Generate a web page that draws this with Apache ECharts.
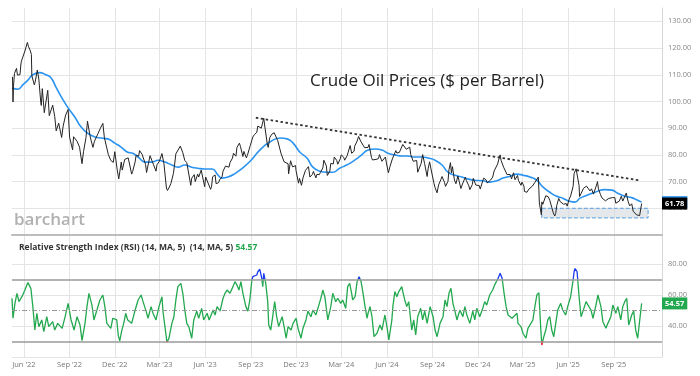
<!DOCTYPE html>
<html>
<head>
<meta charset="utf-8">
<script src="https://cdn.jsdelivr.net/npm/echarts@6/dist/echarts.min.js"></script>
<style>
html, body { margin: 0; padding: 0; background: #fff; }
#chart { width: 700px; height: 376px; }
</style>
</head>
<body>
<div id="chart"></div>
<script>
// x axis ticks (quarter starts) and their labels
var tickDates = ['2022-06-01','2022-09-01','2022-12-01','2023-03-01','2023-06-01','2023-09-01','2023-12-01',
  '2024-03-01','2024-06-01','2024-09-01','2024-12-01','2025-03-01','2025-06-01','2025-09-01'];
var tickLabels = ["Jun '22","Sep '22","Dec '22","Mar '23","Jun '23","Sep '23","Dec '23",
  "Mar '24","Jun '24","Sep '24","Dec '24","Mar '25","Jun '25","Sep '25"];
var priceTicks = [60, 70, 80, 90, 100, 110, 120, 130];
var rsiTicks = [20, 40, 60, 80];
var rsiLabelTicks = [40, 60, 80];

// crude oil close
var priceDates = [
  '2022-05-09','2022-05-10','2022-05-11','2022-05-13','2022-05-17','2022-05-19','2022-05-20','2022-05-24','2022-05-26','2022-05-27','2022-05-31',
  '2022-06-03','2022-06-08','2022-06-10','2022-06-14','2022-06-16','2022-06-17','2022-06-22','2022-06-24','2022-06-28',
  '2022-07-01','2022-07-05','2022-07-06','2022-07-08','2022-07-12','2022-07-14','2022-07-19','2022-07-22','2022-07-26','2022-07-29',
  '2022-08-02','2022-08-05','2022-08-10','2022-08-16','2022-08-19','2022-08-24','2022-08-29',
  '2022-09-01','2022-09-07','2022-09-09','2022-09-13','2022-09-16','2022-09-21','2022-09-26','2022-09-29',
  '2022-10-04','2022-10-07','2022-10-12','2022-10-14','2022-10-18','2022-10-21','2022-10-25','2022-10-28',
  '2022-11-02','2022-11-07','2022-11-10','2022-11-14','2022-11-18','2022-11-23','2022-11-28',
  '2022-12-01','2022-12-06','2022-12-09','2022-12-14','2022-12-16','2022-12-21','2022-12-28',
  '2023-01-04','2023-01-06','2023-01-11','2023-01-13','2023-01-18','2023-01-20','2023-01-25','2023-01-27',
  '2023-02-01','2023-02-03','2023-02-06','2023-02-10','2023-02-14','2023-02-17','2023-02-22','2023-02-24',
  '2023-03-01','2023-03-06','2023-03-10','2023-03-15','2023-03-17','2023-03-20','2023-03-24','2023-03-29','2023-03-31',
  '2023-04-03','2023-04-06','2023-04-12','2023-04-17','2023-04-21','2023-04-25','2023-04-28',
  '2023-05-03','2023-05-05','2023-05-10','2023-05-12','2023-05-17','2023-05-19','2023-05-24','2023-05-31',
  '2023-06-02','2023-06-05','2023-06-12','2023-06-14','2023-06-16','2023-06-21','2023-06-23','2023-06-28','2023-06-30',
  '2023-07-05','2023-07-07','2023-07-12','2023-07-14','2023-07-19','2023-07-21','2023-07-26','2023-07-28',
  '2023-08-02','2023-08-04','2023-08-09','2023-08-11','2023-08-16','2023-08-18','2023-08-23','2023-08-25','2023-08-31',
  '2023-09-05','2023-09-08','2023-09-13','2023-09-15','2023-09-19','2023-09-22','2023-09-27','2023-09-29',
  '2023-10-04','2023-10-06','2023-10-09','2023-10-13','2023-10-18','2023-10-20','2023-10-25','2023-10-27',
  '2023-11-01','2023-11-03','2023-11-07','2023-11-10','2023-11-15','2023-11-16','2023-11-20','2023-11-24','2023-11-30',
  '2023-12-01','2023-12-06','2023-12-08','2023-12-12','2023-12-15','2023-12-20','2023-12-26','2023-12-29',
  '2024-01-03','2024-01-05','2024-01-10','2024-01-12','2024-01-17','2024-01-19','2024-01-24','2024-01-26','2024-01-31',
  '2024-02-02','2024-02-07','2024-02-09','2024-02-14','2024-02-16','2024-02-21','2024-02-23','2024-02-28',
  '2024-03-01','2024-03-06','2024-03-08','2024-03-13','2024-03-15','2024-03-19','2024-03-22','2024-03-27','2024-03-28',
  '2024-04-02','2024-04-05','2024-04-09','2024-04-12','2024-04-17','2024-04-19','2024-04-24','2024-04-26',
  '2024-05-01','2024-05-03','2024-05-07','2024-05-10','2024-05-15','2024-05-17','2024-05-22','2024-05-24','2024-05-29','2024-05-31',
  '2024-06-04','2024-06-07','2024-06-12','2024-06-14','2024-06-19','2024-06-21','2024-06-26','2024-06-28',
  '2024-07-03','2024-07-05','2024-07-10','2024-07-12','2024-07-17','2024-07-19','2024-07-24','2024-07-26','2024-07-31',
  '2024-08-02','2024-08-05','2024-08-09','2024-08-12','2024-08-16','2024-08-21','2024-08-23','2024-08-26','2024-08-30',
  '2024-09-04','2024-09-06','2024-09-10','2024-09-13','2024-09-18','2024-09-20','2024-09-25','2024-09-27',
  '2024-10-02','2024-10-04','2024-10-07','2024-10-09','2024-10-11','2024-10-15','2024-10-18','2024-10-22','2024-10-25','2024-10-28',
  '2024-11-01','2024-11-06','2024-11-08','2024-11-13','2024-11-15','2024-11-20','2024-11-22','2024-11-27','2024-11-29',
  '2024-12-04','2024-12-06','2024-12-11','2024-12-13','2024-12-18','2024-12-20','2024-12-24','2024-12-27','2024-12-31',
  '2025-01-03','2025-01-07','2025-01-10','2025-01-13','2025-01-15','2025-01-17','2025-01-22','2025-01-24','2025-01-29','2025-01-31',
  '2025-02-04','2025-02-07','2025-02-11','2025-02-14','2025-02-19','2025-02-21','2025-02-26','2025-02-28',
  '2025-03-04','2025-03-05','2025-03-10','2025-03-14','2025-03-18','2025-03-21','2025-03-26','2025-03-28',
  '2025-04-02','2025-04-03','2025-04-04','2025-04-08','2025-04-09','2025-04-11','2025-04-15','2025-04-17','2025-04-22','2025-04-25','2025-04-29',
  '2025-05-02','2025-05-05','2025-05-07','2025-05-09','2025-05-13','2025-05-16','2025-05-20','2025-05-23','2025-05-28','2025-05-30',
  '2025-06-03','2025-06-06','2025-06-10','2025-06-11','2025-06-13','2025-06-17','2025-06-18','2025-06-20','2025-06-23','2025-06-24','2025-06-27',
  '2025-07-02','2025-07-03','2025-07-08','2025-07-11','2025-07-15','2025-07-18','2025-07-22','2025-07-25','2025-07-29','2025-07-30',
  '2025-08-01','2025-08-05','2025-08-08','2025-08-12','2025-08-15','2025-08-19','2025-08-22','2025-08-26','2025-08-29',
  '2025-09-03','2025-09-05','2025-09-09','2025-09-12','2025-09-16','2025-09-19','2025-09-23','2025-09-26','2025-09-30',
  '2025-10-03','2025-10-07','2025-10-09','2025-10-10','2025-10-14','2025-10-17','2025-10-21','2025-10-23','2025-10-27'
];
var priceValues = [
  109.2,99.8,105.7,110.5,112.4,109.9,110.3,110.0,114.1,115.1,114.7,
  118.9,122.1,120.7,118.9,117.6,109.6,106.2,107.6,111.8,
  108.4,99.5,98.5,104.8,95.8,95.8,104.2,94.7,95.0,98.6,
  94.4,89.0,91.9,86.5,90.8,94.9,97.0,
  86.6,81.9,86.8,87.3,85.1,82.9,76.7,81.2,
  86.5,92.6,87.3,85.6,82.8,85.1,85.3,87.9,
  90.0,91.8,86.5,85.9,80.1,77.9,77.2,
  81.2,74.3,71.0,77.3,74.3,78.3,78.9,
  72.8,73.8,77.4,79.9,79.5,81.6,80.2,79.7,
  76.4,73.4,74.1,79.7,79.1,76.3,73.9,76.3,
  77.7,80.5,76.7,67.6,66.7,67.6,69.3,73.0,75.7,
  80.4,80.7,83.3,80.8,77.9,77.1,76.8,
  68.6,71.3,72.6,70.0,72.8,71.7,74.3,68.1,
  71.7,72.2,67.1,68.3,71.8,72.5,69.2,69.6,70.6,
  71.8,73.9,75.8,75.4,75.4,77.1,78.8,80.6,
  79.5,82.8,84.4,83.2,79.4,81.3,78.9,79.8,83.6,
  86.7,87.5,88.5,90.8,91.2,90.0,93.7,90.8,
  84.2,82.8,86.4,87.7,88.3,88.1,85.4,85.5,
  80.4,80.5,77.4,77.2,76.7,72.9,77.8,75.5,76.0,
  74.1,69.4,71.2,68.6,71.4,74.2,75.6,71.7,
  72.7,73.8,71.4,72.7,72.6,73.4,75.1,78.0,75.9,
  72.3,73.9,76.8,76.6,79.2,77.9,76.5,78.5,
  80.0,79.1,78.0,79.7,81.0,83.5,80.6,81.4,83.2,
  85.2,86.9,85.2,85.7,82.7,83.1,82.8,83.9,
  79.0,78.1,78.4,78.3,78.6,80.1,77.6,77.7,79.2,77.0,
  73.3,75.5,78.5,78.5,81.6,80.7,80.9,81.5,
  83.9,83.2,82.1,82.2,82.9,80.1,77.6,77.2,77.9,
  73.5,72.9,76.8,80.1,76.7,71.9,74.8,77.4,73.6,
  69.2,67.7,65.8,68.7,70.9,71.9,69.7,68.2,
  70.1,74.4,77.1,73.2,75.6,70.6,69.2,72.1,71.8,67.4,
  69.5,71.7,70.4,68.4,67.0,68.9,71.2,68.7,68.0,
  68.5,67.2,70.3,71.3,70.6,69.5,70.1,70.6,71.7,
  74.0,74.3,76.6,78.8,80.0,77.9,75.4,74.7,72.6,72.5,
  72.7,71.0,73.3,70.7,72.3,70.4,68.6,69.8,
  68.3,66.3,66.0,67.2,66.9,68.3,69.7,69.4,
  71.7,67.0,62.0,57.6,62.4,61.5,61.3,64.7,64.3,63.0,60.4,
  58.3,57.1,58.1,61.0,63.7,62.5,62.6,61.5,61.8,60.8,
  63.4,64.6,65.0,68.2,73.0,74.8,75.1,74.9,68.5,64.4,65.5,
  67.5,67.0,68.3,68.5,66.5,67.3,65.3,65.2,69.2,70.0,
  67.3,65.2,63.9,63.2,62.8,62.4,63.7,63.3,64.0,
  64.0,61.9,62.6,62.7,64.5,62.7,63.4,65.7,62.4,
  60.9,61.7,61.5,58.9,58.7,57.5,57.4,57.3,61.78
];

// moving average (blue)
var maDates = [
  '2022-05-08','2022-05-20','2022-05-30','2022-06-09','2022-06-19','2022-07-03','2022-07-15','2022-07-25','2022-08-04','2022-08-15',
  '2022-08-29','2022-09-12','2022-09-24','2022-10-08','2022-10-22','2022-11-03','2022-11-17','2022-12-01','2022-12-13','2022-12-27',
  '2023-01-06','2023-01-17','2023-01-31','2023-02-14','2023-02-26','2023-03-12','2023-03-26','2023-04-07','2023-04-21','2023-05-05',
  '2023-05-17','2023-05-31','2023-06-15','2023-06-27','2023-07-05','2023-07-17','2023-07-31','2023-08-12','2023-08-30','2023-09-19',
  '2023-10-09','2023-10-30','2023-11-13','2023-11-25','2023-12-09','2023-12-23',
  '2024-01-04','2024-01-18','2024-02-01','2024-02-13','2024-02-27','2024-03-12','2024-03-24','2024-04-08','2024-04-24','2024-05-08',
  '2024-05-22','2024-06-03','2024-06-17','2024-07-01','2024-07-13','2024-07-27','2024-08-10','2024-08-23','2024-09-06','2024-09-20',
  '2024-10-02','2024-10-16','2024-10-30','2024-11-11','2024-11-25','2024-12-11','2024-12-25',
  '2025-01-08','2025-01-21','2025-02-04','2025-02-18','2025-03-02','2025-03-16','2025-03-30','2025-04-11','2025-04-25','2025-05-09',
  '2025-05-21','2025-06-04','2025-06-15','2025-06-25','2025-07-09','2025-07-25','2025-08-14','2025-08-28','2025-09-09','2025-09-23',
  '2025-10-07','2025-10-19','2025-10-27'
];
var maValues = [
  105,104.6,106.3,108,110,110.8,110,109,105.6,101.8,
  97.6,94,90.5,88,86.7,86.3,86,84.4,83,81,
  80.6,79.2,77.3,77.3,78,77.3,76.2,75.4,76.2,75.4,
  75,74.7,74.7,72.4,71.3,71.7,73,74.6,77.5,81.8,
  84.8,86.3,86,84.4,81,78.8,
  75.4,73.9,73.5,73.5,75,76.2,77.5,79.5,81.8,82.2,
  81.8,80.6,80,79.6,79.6,79.2,79.2,78.8,78,76.2,
  73.5,72.4,71.7,71,70.5,70.3,69.8,
  70.3,71.3,72,72.8,72.4,71.7,70.5,68,66,64.5,
  63.8,62.6,62.3,63.8,64.9,66,67,66.8,65.6,64.5,
  64,63,62.3
];

// RSI (14)
var rsiDates = [
  '2022-05-08','2022-05-10','2022-05-14','2022-05-18','2022-05-22','2022-05-28','2022-06-03','2022-06-09','2022-06-15','2022-06-19','2022-06-23','2022-06-27',
  '2022-07-01','2022-07-07','2022-07-11','2022-07-17','2022-07-21','2022-07-29','2022-08-02','2022-08-08','2022-08-17','2022-08-23','2022-08-29',
  '2022-09-04','2022-09-10','2022-09-16','2022-09-22','2022-09-26','2022-10-02','2022-10-06','2022-10-10','2022-10-16','2022-10-20','2022-10-26',
  '2022-11-01','2022-11-07','2022-11-11','2022-11-15','2022-11-23','2022-11-27','2022-12-05','2022-12-08','2022-12-11','2022-12-15','2022-12-19','2022-12-23','2022-12-27',
  '2023-01-04','2023-01-11','2023-01-17','2023-01-23','2023-01-27','2023-02-02','2023-02-06','2023-02-12','2023-02-16','2023-02-22','2023-02-28',
  '2023-03-06','2023-03-08','2023-03-12','2023-03-16','2023-03-20','2023-03-26','2023-03-30','2023-04-03','2023-04-07','2023-04-13','2023-04-17','2023-04-21','2023-04-25','2023-04-29',
  '2023-05-05','2023-05-09','2023-05-15','2023-05-19','2023-05-25','2023-05-29','2023-06-05','2023-06-09','2023-06-17','2023-06-21','2023-06-25',
  '2023-07-01','2023-07-07','2023-07-11','2023-07-15','2023-07-21','2023-07-27','2023-07-31','2023-08-04','2023-08-08','2023-08-12','2023-08-16','2023-08-22','2023-08-26','2023-08-30',
  '2023-09-03','2023-09-05','2023-09-09','2023-09-13','2023-09-15','2023-09-19','2023-09-23','2023-09-25','2023-09-27','2023-10-01','2023-10-05','2023-10-07','2023-10-11','2023-10-15','2023-10-19','2023-10-23','2023-10-27',
  '2023-11-03','2023-11-07','2023-11-11','2023-11-15','2023-11-21','2023-11-25','2023-12-01','2023-12-05','2023-12-11','2023-12-15','2023-12-21','2023-12-25','2023-12-31',
  '2024-01-04','2024-01-10','2024-01-14','2024-01-20','2024-01-24','2024-01-28','2024-02-03','2024-02-09','2024-02-13','2024-02-19','2024-02-23','2024-02-29',
  '2024-03-04','2024-03-10','2024-03-14','2024-03-18','2024-03-22','2024-03-24','2024-03-29','2024-04-02','2024-04-06','2024-04-10','2024-04-14','2024-04-18','2024-04-22','2024-04-24','2024-04-28',
  '2024-05-02','2024-05-06','2024-05-12','2024-05-18','2024-05-22','2024-05-28','2024-06-01','2024-06-05','2024-06-11','2024-06-13','2024-06-17','2024-06-21','2024-06-25',
  '2024-07-01','2024-07-03','2024-07-07','2024-07-11','2024-07-15','2024-07-21','2024-07-25','2024-07-29','2024-08-02','2024-08-08','2024-08-12','2024-08-16','2024-08-21','2024-08-27',
  '2024-09-02','2024-09-06','2024-09-10','2024-09-16','2024-09-22','2024-09-26','2024-09-30','2024-10-04','2024-10-08','2024-10-12','2024-10-16','2024-10-20','2024-10-26',
  '2024-11-01','2024-11-05','2024-11-09','2024-11-15','2024-11-21','2024-11-25','2024-11-29','2024-12-05','2024-12-11','2024-12-15','2024-12-19','2024-12-25','2024-12-31',
  '2025-01-04','2025-01-08','2025-01-11','2025-01-15','2025-01-17','2025-01-19','2025-01-23','2025-01-27','2025-01-31','2025-02-08','2025-02-12','2025-02-18','2025-02-20','2025-02-26',
  '2025-03-02','2025-03-08','2025-03-12','2025-03-16','2025-03-22','2025-03-26','2025-03-30','2025-04-03','2025-04-07','2025-04-09','2025-04-11','2025-04-13','2025-04-17','2025-04-21','2025-04-25','2025-04-29',
  '2025-05-03','2025-05-07','2025-05-11','2025-05-17','2025-05-21','2025-05-27','2025-05-31','2025-06-06','2025-06-11','2025-06-13','2025-06-15','2025-06-19','2025-06-21','2025-06-23','2025-06-27',
  '2025-07-01','2025-07-07','2025-07-11','2025-07-17','2025-07-21','2025-07-27','2025-07-31','2025-08-06','2025-08-10','2025-08-16','2025-08-20','2025-08-26','2025-08-30',
  '2025-09-05','2025-09-09','2025-09-15','2025-09-19','2025-09-23','2025-09-27','2025-10-01','2025-10-07','2025-10-11','2025-10-15','2025-10-19','2025-10-23','2025-10-27'
];
var rsiValues = [
  57.9,45,54.8,61,55.7,58.9,63.2,68,64.3,52.5,37.4,48.2,
  39.6,43.9,36.3,46,39.6,42.8,37.4,41.7,38.5,46,54.6,
  43.9,37.4,46,40.6,30.5,41.7,52.5,61.1,53.5,43.9,50.3,
  56.8,60,52.5,41.7,38.5,45,43.9,34,30.4,37,41.7,48.2,43.9,
  41.7,50.3,56.8,60,55.7,49.6,45,52.5,48.2,43.9,52.5,
  58.9,49.6,39.6,29.5,32,41.7,46,56.8,65.4,67.5,61.1,50.3,41.7,39.6,
  32.1,43.9,49.6,45,51.4,43.9,48.2,43.9,50.3,47.1,52.5,
  49.6,57.9,61.1,63.2,61.1,65.4,68.6,66.5,63.2,68.6,61.1,52.5,49.6,56.8,
  69.7,71.8,70.8,72.9,75,76.6,70.8,65.4,74,67.5,55.7,40.6,37.4,46,55.7,46,39.6,
  46,39.6,32.1,39.6,37.4,41.7,45,38.5,32.1,38.5,43.9,49.6,46,
  50.3,47.1,51.4,57.9,63.2,58.9,43.9,52.5,61.1,55.7,57.9,54.6,
  56.8,51.4,65.4,67.5,61.1,56.8,58.9,68.6,71.8,68.6,61.1,52.5,45,48.2,52.5,
  46,33.1,35.3,40.6,37.4,47.1,39.6,31,43.9,52.5,62.2,58.9,62.2,
  65.4,62.2,56.8,52.5,55.7,37.4,43.9,34.2,46,51.4,43.9,49.6,41.7,52.5,
  46,37.4,33.1,41.7,46,56.8,52.5,61.1,64.3,54.6,49.6,43.9,50.3,
  46,52.5,47.1,41.7,49.6,43.9,51.4,46,51.4,55.7,53.5,60,63.2,
  66.5,65.4,70.8,74,75,70.8,61.1,52.5,47.1,45,43.9,48.2,41.7,39.6,
  35.3,32.1,38.5,40.6,43.9,52.5,60,61.5,37.4,27.7,26.7,33.1,37.4,43.9,46,37.4,
  33.1,41.7,50.3,54.6,50.3,47.1,52.5,58.9,69.7,75,77.1,75,76,58.9,46,
  49.6,55.7,53.5,50.3,45,53.5,60,52.5,42.8,38.5,41.7,46,53.5,
  48.2,52.5,43.9,52.5,55.7,57.9,40.6,47.1,49.6,37.4,32.1,32.1,54.57
];

// annotations drawn on the price pane
var trendDates = ['2023-09-11', '2025-10-21'];
var trendValues = [93.9, 70.5];
var boxDates = ['2025-04-09', '2025-11-09'];
var boxValues = [60, 56.4];
var lastPrice = 61.78;
var lastMa = 62.3;
var lastRsi = 54.57;

function ts(s) {
  var p = s.split('-');
  return new Date(+p[0], +p[1] - 1, +p[2]).getTime();
}
function pairs(d, v) {
  return d.map(function (s, i) { return [ts(s), v[i]]; });
}

var tickTimes = tickDates.map(ts);
var xMin = ts('2022-05-08');
var xMax = ts('2025-12-07');
var font = 'Open Sans';
var clear = 'rgba(0,0,0,0)';

var chart = echarts.init(document.getElementById('chart'));

// value tag sitting on the right axis
function tagLabel(value, bg) {
  return {
    show: true,
    position: 'end',
    distance: 0,
    formatter: value.toFixed(2),
    backgroundColor: bg,
    color: '#fff',
    fontWeight: 'bold',
    fontSize: 7.5,
    fontFamily: font,
    padding: [2, 3, 2, 3]
  };
}

var option = {
  animation: false,
  textStyle: { fontFamily: font },
  title: [
    {
      text: 'Crude Oil Prices ($ per Barrel)',
      left: 305,
      top: 68,
      textStyle: { fontSize: 17, fontWeight: 'normal', color: '#222', fontFamily: font }
    },
    {
      text: '{a|Relative Strength Index (RSI) (14, MA, 5)  (14, MA, 5) }{b|' + lastRsi.toFixed(2) + '}',
      left: 14,
      top: 238,
      textStyle: {
        rich: {
          a: { fontSize: 8.5, color: '#333', fontFamily: font },
          b: { fontSize: 8.5, color: '#22a84e', fontFamily: font }
        }
      }
    }
  ],
  graphic: [
    {
      type: 'text',
      left: 14,
      top: 212,
      style: { text: 'barchart', fontSize: 17, fontWeight: 600, fill: '#b0b0b0', fontFamily: font }
    }
  ],
  grid: [
    { left: 12, right: 38, top: 8, bottom: 19 },
    { left: 12, right: 38, top: 8, bottom: 141 },
    { left: 12, right: 38, top: 248.5, bottom: 19 }
  ],
  xAxis: [
    {
      gridIndex: 0, type: 'value', min: xMin, max: xMax,
      axisLine: { show: false },
      axisTick: { show: false, customValues: tickTimes },
      splitLine: { show: true, lineStyle: { color: '#e4e4e4', width: 1 } },
      axisLabel: {
        customValues: tickTimes,
        formatter: function (v) {
          var i = tickTimes.indexOf(v);
          return i < 0 ? '' : tickLabels[i];
        },
        color: '#777', fontSize: 7.5, margin: 4, fontFamily: font
      }
    },
    {
      gridIndex: 1, type: 'value', min: xMin, max: xMax,
      axisLine: { show: true, onZero: false, lineStyle: { color: '#bdbdbd', width: 2 } },
      axisTick: { show: false }, axisLabel: { show: false }, splitLine: { show: false }
    },
    { gridIndex: 2, type: 'value', min: xMin, max: xMax, show: false, splitLine: { show: false } }
  ],
  yAxis: [
    {
      gridIndex: 0, position: 'right', min: 0, max: 1,
      axisLine: { show: true, lineStyle: { color: '#d6d6d6' } },
      axisTick: { show: false }, axisLabel: { show: false }, splitLine: { show: false }
    },
    {
      gridIndex: 1, position: 'right', min: 50, max: 135,
      axisLine: { show: false },
      axisTick: { show: false, customValues: priceTicks },
      splitLine: { show: true, lineStyle: { color: '#e4e4e4', width: 1.2 } },
      axisLabel: {
        customValues: priceTicks,
        formatter: function (v) { return v.toFixed(2); },
        color: '#888', fontSize: 7.5, margin: 6, fontFamily: font
      }
    },
    {
      gridIndex: 2, position: 'right', min: 20, max: 90,
      axisLine: { show: false },
      axisTick: { show: false, customValues: rsiTicks },
      splitLine: { show: true, lineStyle: { color: '#e4e4e4', width: 1.2 } },
      axisLabel: {
        customValues: rsiLabelTicks,
        formatter: function (v) { return v.toFixed(2); },
        color: '#888', fontSize: 7.5, margin: 6, fontFamily: font
      }
    }
  ],
  visualMap: [
    {
      type: 'piecewise', show: false, seriesIndex: 3, dimension: 1,
      pieces: [
        { lt: 30, color: '#f01c1c' },
        { gte: 30, lte: 70, color: '#22a84e' },
        { gt: 70, color: '#1a3af0' }
      ]
    }
  ],
  series: [
    {
      name: 'MA',
      type: 'line',
      xAxisIndex: 1, yAxisIndex: 1,
      data: pairs(maDates, maValues),
      smooth: true,
      showSymbol: false,
      z: 2,
      lineStyle: { color: '#2a93f0', width: 1.6 },
      markLine: {
        silent: true, symbol: 'none',
        lineStyle: { color: clear, width: 0 },
        label: tagLabel(lastMa, '#2a93f0'),
        data: [{ yAxis: lastMa }]
      }
    },
    {
      name: 'Crude Oil',
      type: 'line',
      xAxisIndex: 1, yAxisIndex: 1,
      data: pairs(priceDates, priceValues),
      showSymbol: false,
      z: 3,
      lineStyle: { color: '#222', width: 1 },
      markLine: {
        silent: true, symbol: 'none',
        lineStyle: { color: clear, width: 0 },
        label: tagLabel(lastPrice, '#000'),
        data: [{ yAxis: lastPrice }]
      },
      markArea: {
        silent: true,
        itemStyle: {
          color: 'rgba(214,220,224,0.65)',
          borderColor: '#5a9fe0',
          borderWidth: 1,
          borderType: 'dashed'
        },
        data: [[
          { xAxis: ts(boxDates[0]), yAxis: boxValues[0] },
          { xAxis: ts(boxDates[1]), yAxis: boxValues[1] }
        ]]
      }
    },
    {
      name: 'Trend',
      type: 'line',
      xAxisIndex: 1, yAxisIndex: 1,
      data: pairs(trendDates, trendValues),
      showSymbol: false,
      z: 4,
      lineStyle: { color: '#333', width: 1.8, type: [2.5, 2.5] }
    },
    {
      name: 'RSI',
      type: 'line',
      xAxisIndex: 2, yAxisIndex: 2,
      data: pairs(rsiDates, rsiValues),
      showSymbol: false,
      z: 3,
      lineStyle: { width: 1.3 },
      markLine: {
        silent: true,
        symbol: 'none',
        label: { show: false },
        data: [
          { yAxis: 70, lineStyle: { color: '#9a9a9a', width: 1.5, type: 'solid' } },
          { yAxis: 30, lineStyle: { color: '#9a9a9a', width: 1.5, type: 'solid' } },
          { yAxis: 50, lineStyle: { color: '#999', width: 1, type: [5, 2, 1, 2] } },
          {
            yAxis: lastRsi,
            lineStyle: { color: clear, width: 0 },
            label: tagLabel(lastRsi, '#22a84e')
          }
        ]
      }
    }
  ]
};

chart.setOption(option);
</script>
</body>
</html>
